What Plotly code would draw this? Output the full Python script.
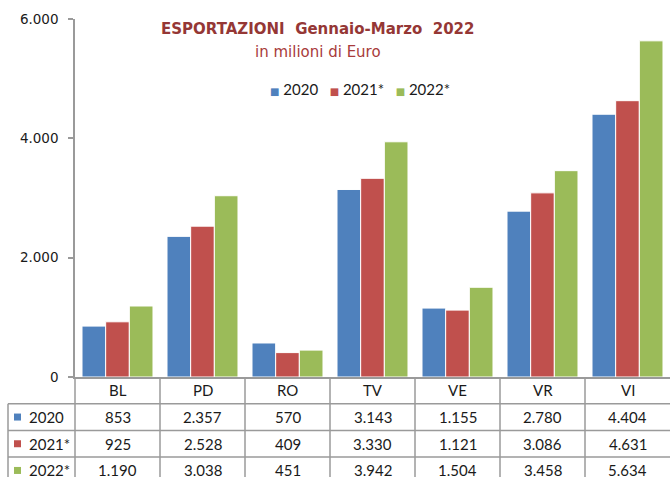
import plotly.graph_objects as go

# ---------------- data ----------------
categories = ["BL", "PD", "RO", "TV", "VE", "VR", "VI"]
series_names = ["2020", "2021*", "2022*"]
values_2020 = [853, 2357, 570, 3143, 1155, 2780, 4404]
values_2021 = [925, 2528, 409, 3330, 1121, 3086, 4631]
values_2022 = [1190, 3038, 451, 3942, 1504, 3458, 5634]
y_tick_values = [0, 2000, 4000, 6000]
title_text = "<b>ESPORTAZIONI  Gennaio-Marzo  2022</b>"
subtitle_text = "in milioni di Euro"

series_values = [values_2020, values_2021, values_2022]
colors = ["#4F81BD", "#C0504D", "#9BBB59"]

# ---------------- layout geometry ----------------
W, H = 670, 477
plot_left, plot_top, plot_bottom = 75, 19, 377
n = len(categories)
col_px = (W - plot_left) / n
label_left_px = 8
row_px = 26.7

x2_min = -0.5 - plot_left / col_px
x2_max = n - 0.5
table_rows_visible = (H - plot_bottom) / row_px
label_col_left = x2_min + label_left_px / col_px
square_x = x2_min + 17.5 / col_px
label_text_x = x2_min + 27 / col_px

y_dom_bottom = (H - plot_bottom) / H
y_dom_top = (H - plot_top) / H

fig = go.Figure()

for name, vals, col in zip(series_names, series_values, colors):
    fig.add_trace(go.Bar(
        x=categories, y=vals, name=name,
        marker=dict(color=col, line=dict(color="white", width=1)),
        xaxis="x", yaxis="y", showlegend=False,
    ))

# legend keys inside the data table
fig.add_trace(go.Scatter(
    x=[square_x] * 3, y=[1.5, 2.5, 3.5], mode="markers",
    marker=dict(symbol="square", size=7, color=colors),
    xaxis="x2", yaxis="y2", showlegend=False, hoverinfo="skip",
))

gray = "#9a9a9a"
shapes = []
for i in range(n):
    shapes.append(dict(type="line", xref="x2", yref="y2",
                       x0=i - 0.5, x1=i - 0.5, y0=0, y1=table_rows_visible,
                       line=dict(color=gray, width=1.5)))
shapes.append(dict(type="line", xref="x2", yref="y2",
                   x0=label_col_left, x1=label_col_left, y0=1, y1=table_rows_visible,
                   line=dict(color=gray, width=1.5)))
for r in [1, 2, 3]:
    shapes.append(dict(type="line", xref="x2", yref="y2",
                       x0=label_col_left, x1=x2_max, y0=r, y1=r,
                       line=dict(color=gray, width=1.5)))

annotations = []
table_font = dict(family="Lato", size=15, color="#1a1a1a")
for i, c in enumerate(categories):
    annotations.append(dict(xref="x2", yref="y2", x=i, y=0.5, text=c,
                            showarrow=False, font=table_font,
                            xanchor="center", yanchor="middle"))
for r, (name, vals) in enumerate(zip(series_names, series_values)):
    annotations.append(dict(xref="x2", yref="y2", x=label_text_x, y=r + 1.5,
                            text=name, showarrow=False, font=table_font,
                            xanchor="left", yanchor="middle"))
    for i, v in enumerate(vals):
        annotations.append(dict(xref="x2", yref="y2", x=i, y=r + 1.5,
                                text=f"{v:,}".replace(",", "."),
                                showarrow=False, font=table_font,
                                xanchor="center", yanchor="middle"))

# title and subtitle
annotations.append(dict(xref="paper", yref="paper", x=317 / W, y=1 - 29 / H,
                        text=title_text, showarrow=False,
                        font=dict(family="DejaVu Sans", size=15, color="#953735"),
                        xanchor="center", yanchor="middle"))
annotations.append(dict(xref="paper", yref="paper", x=318 / W, y=1 - 52 / H,
                        text=subtitle_text, showarrow=False,
                        font=dict(family="DejaVu Sans", size=15, color="#A83B3B"),
                        xanchor="center", yanchor="middle"))

# legend (series keys) above the bars
key_parts = []
for name, col in zip(series_names, colors):
    key_parts.append(
        f"<span style='font-family:DejaVu Sans;font-size:10px;color:{col}'>■</span> {name}"
    )
legend_text = "   ".join(key_parts)
annotations.append(dict(xref="paper", yref="paper", x=360 / W, y=1 - 89 / H,
                        text=legend_text, showarrow=False,
                        font=dict(family="Lato", size=15, color="#1a1a1a"),
                        xanchor="center", yanchor="middle"))

fig.update_layout(
    width=W, height=H, autosize=False,
    margin=dict(l=0, r=0, t=0, b=0, pad=0, autoexpand=False),
    paper_bgcolor="white", plot_bgcolor="white",
    separators=",.",
    barmode="group", bargap=0.165, bargroupgap=0,
    showlegend=False,
    xaxis=dict(domain=[plot_left / W, 1], range=[-0.5, n - 0.5],
               showticklabels=False, ticks="", showgrid=False,
               showline=True, linecolor=gray, linewidth=1.5,
               anchor="y", zeroline=False, automargin=False),
    yaxis=dict(domain=[y_dom_bottom, y_dom_top], range=[0, 6000],
               tickvals=y_tick_values, tickformat=",.0f",
               ticks="outside", ticklen=5, tickcolor=gray, tickwidth=1.5,
               ticklabelstandoff=7,
               showline=True, linecolor=gray, linewidth=1.5,
               showgrid=False, zeroline=False, automargin=False,
               tickfont=dict(family="DejaVu Sans", size=13.5, color="#1a1a1a"),
               anchor="x"),
    xaxis2=dict(domain=[0, 1], range=[x2_min, x2_max], visible=False,
                anchor="y2", automargin=False),
    yaxis2=dict(domain=[0, y_dom_bottom], range=[table_rows_visible, 0],
                visible=False, anchor="x2", automargin=False),
    shapes=shapes,
    annotations=annotations,
)

fig.write_html(
    "out.html",
    config={"displayModeBar": False},
    post_script="document.body.style.margin='0';document.body.style.overflow='hidden';",
)
